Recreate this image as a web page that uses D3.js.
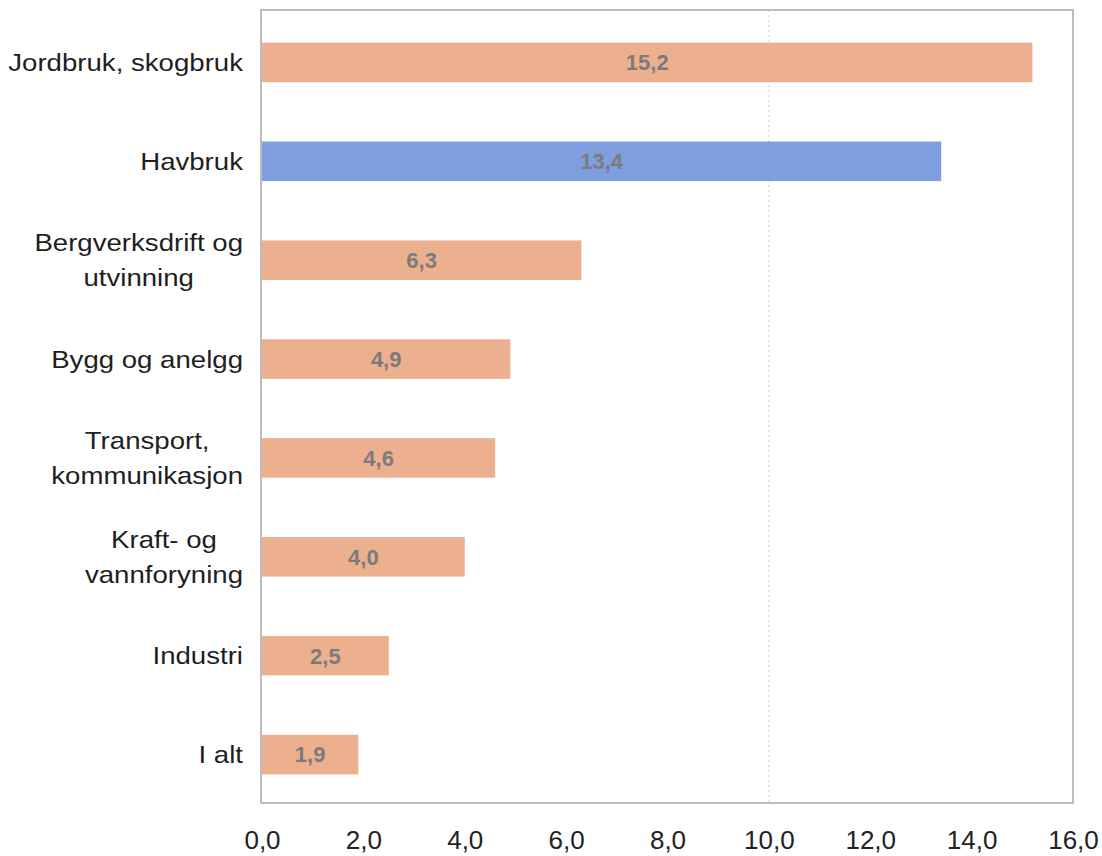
<!DOCTYPE html>
<html>
<head>
<meta charset="utf-8">
<script src="https://cdn.jsdelivr.net/npm/d3@7"></script>
<style>
  html, body { margin: 0; padding: 0; background: #fff; }
  svg { display: block; }
</style>
</head>
<body>
<svg id="chart" width="1102" height="856" viewBox="0 0 1102 856"></svg>
<script>
// data
const categories = [
  ["Jordbruk, skogbruk"],
  ["Havbruk"],
  ["Bergverksdrift og", "utvinning"],
  ["Bygg og anelgg"],
  ["Transport,", "kommunikasjon"],
  ["Kraft- og", "vannforyning"],
  ["Industri"],
  ["I alt"]
]
const values = [15.2, 13.4, 6.3, 4.9, 4.6, 4.0, 2.5, 1.9]
const highlighted = ["Havbruk"]
const xTicks = [0, 2, 4, 6, 8, 10, 12, 14, 16]
const gridTicks = [10]

const svg = d3.select("#chart")
const plotL = 261, plotR = 1073, plotT = 10, plotB = 803

const rows = categories.map((c, i) => ({lines: c, key: c.join(" "), value: values[i]}))

const x = d3.scaleLinear().domain([0, 16]).range([262, 1073])
const y = d3.scaleBand()
    .domain(rows.map(d => d.key))
    .range([13, 804])
    .paddingInner(0.6)
    .paddingOuter(0.3)

// dotted grid line
svg.append("g")
    .selectAll("line")
    .data(gridTicks)
    .enter()
    .append("line")
    .attr("x1", d => x(d)).attr("x2", d => x(d))
    .attr("y1", plotT).attr("y2", plotB)
    .attr("stroke", "#cfcfcf")
    .attr("stroke-width", 1)
    .attr("stroke-dasharray", "2,3")

// bars
svg.append("g")
    .selectAll("rect")
    .data(rows)
    .enter()
    .append("rect")
    .attr("x", x(0))
    .attr("y", d => y(d.key))
    .attr("width", d => x(d.value) - x(0))
    .attr("height", y.bandwidth())
    .attr("fill", d => highlighted.includes(d.key) ? "#7d9fdd" : "#edb08f")

// value labels in the middle of the bars
svg.append("g")
    .selectAll("text")
    .data(rows)
    .enter()
    .append("text")
    .attr("x", d => (x(0) + x(d.value)) / 2)
    .attr("y", d => y(d.key) + y.bandwidth() / 2)
    .attr("dy", "0.36em")
    .attr("text-anchor", "middle")
    .attr("font-family", "Liberation Sans, Arial, sans-serif")
    .attr("font-weight", "bold")
    .attr("font-size", 22)
    .attr("fill", "#7b7b7b")
    .text(d => d3.format(".1f")(d.value).replace(".", ","))

// frame
svg.append("rect")
    .attr("x", plotL).attr("y", plotT)
    .attr("width", plotR - plotL).attr("height", plotB - plotT)
    .attr("fill", "none")
    .attr("stroke", "#a6a6a6")
    .attr("stroke-width", 1.5)

// category labels: block right aligned, lines centred inside the block
// (the scanned original is a bit stretched sideways, hence the x scale)
const catG = svg.append("g")
    .attr("font-family", "Liberation Sans, Arial, sans-serif")
    .attr("font-size", 24)
    .attr("fill", "#1e1e1e")
rows.forEach(d => {
    const lh = 35
    const cy = y(d.key) + y.bandwidth() / 2
    const y0 = cy - (d.lines.length - 1) * lh / 2
    const t = catG.append("text")
        .attr("text-anchor", "middle")
        .attr("transform", "translate(243,0) scale(1.15,1)")
    d.lines.forEach((ln, j) => {
        t.append("tspan").attr("x", 0).attr("y", y0 + j * lh).attr("dy", "0.36em").text(ln)
    })
    const w = t.node().getBBox().width
    t.selectAll("tspan").attr("x", -w / 2)
})

// x axis tick labels
svg.append("g")
    .attr("transform", `translate(0,${plotB})`)
    .call(d3.axisBottom(x).tickValues(xTicks).tickSize(0).tickPadding(28)
        .tickFormat(d => d3.format(".1f")(d).replace(".", ",")))
    .call(g => g.select(".domain").remove())
    .call(g => g.selectAll("text")
        .attr("font-family", "Liberation Sans, Arial, sans-serif")
        .attr("font-size", 26)
        .attr("fill", "#222"))
</script>
</body>
</html>
